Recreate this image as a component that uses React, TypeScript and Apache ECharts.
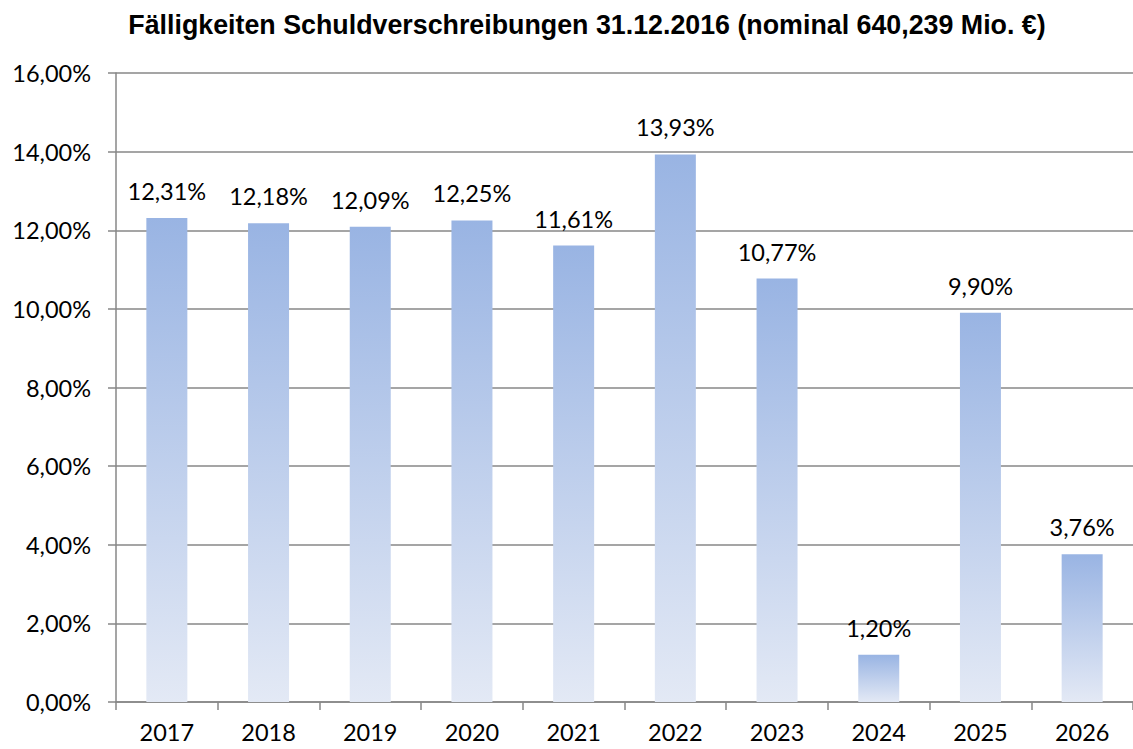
import React, { useEffect, useRef } from "react";
import * as echarts from "echarts";

const categories = ["2017", "2018", "2019", "2020", "2021", "2022", "2023", "2024", "2025", "2026"];
const values = [12.31, 12.18, 12.09, 12.25, 11.61, 13.93, 10.77, 1.2, 9.9, 3.76];
const titleText = "Fälligkeiten Schuldverschreibungen 31.12.2016 (nominal 640,239 Mio. €)";

const fmt = (v: number) => v.toFixed(2).replace(".", ",") + "%";
const labelFont = "Lato, Carlito, Calibri, sans-serif";

export default function App() {
  const ref = useRef<HTMLDivElement>(null);
  useEffect(() => {
    const chart = echarts.init(ref.current!, null, { renderer: "svg" });
    chart.setOption({
      animation: false,
      backgroundColor: "#ffffff",
      title: {
        text: titleText,
        left: 582,
        textAlign: "center",
        top: 6,
        textStyle: { fontFamily: "Liberation Sans, Arial", fontWeight: "bold", fontSize: 26.8, color: "#000" },
      },
      grid: { left: 116, right: 0, top: 73, bottom: 47, containLabel: false },
      xAxis: {
        type: "category",
        data: categories,
        axisLine: { lineStyle: { color: "#878787", width: 1.5 } },
        axisTick: { show: true, length: 8, lineStyle: { color: "#878787", width: 1.5 } },
        axisLabel: { fontFamily: labelFont, fontSize: 23.5, color: "#000", margin: 18 },
      },
      yAxis: {
        type: "value",
        min: 0,
        max: 16,
        interval: 2,
        axisLine: { show: true, lineStyle: { color: "#878787", width: 1.5 } },
        axisTick: { show: true, length: 8, lineStyle: { color: "#878787", width: 1.5 } },
        splitLine: { lineStyle: { color: "#878787", width: 1.5 } },
        axisLabel: {
          fontFamily: labelFont,
          fontSize: 23.5,
          color: "#000",
          margin: 25,
          formatter: (v: number) => fmt(v),
        },
      },
      series: [
        {
          type: "bar",
          data: values,
          barWidth: 41,
          itemStyle: {
            color: new echarts.graphic.LinearGradient(0, 0, 0, 1, [
              { offset: 0, color: "#99B4E3" },
              { offset: 1, color: "#E3E9F5" },
            ]),
          },
          label: {
            show: true,
            position: "top",
            distance: 15,
            fontFamily: labelFont,
            fontSize: 23.5,
            color: "#000",
            formatter: (p: any) => fmt(p.value),
          },
        },
      ],
    });
    return () => chart.dispose();
  }, []);
  return <div ref={ref} style={{ position: "fixed", left: 0, top: 0, width: 1133, height: 749 }} />;
}
